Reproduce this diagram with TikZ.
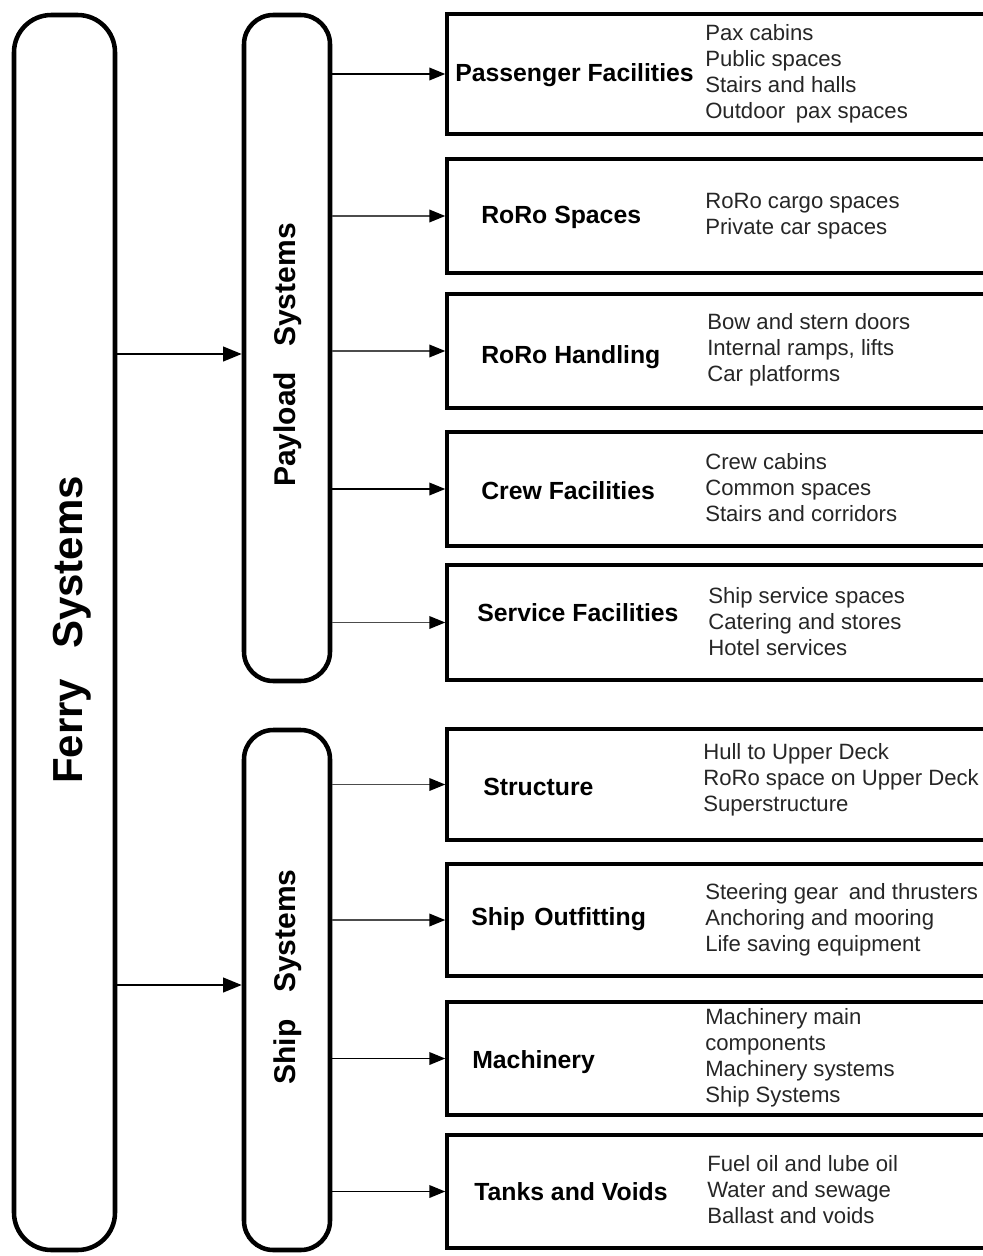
\documentclass[tikz,border=0pt]{standalone}
\usepackage{fontspec}
\setmainfont{Liberation Sans}
\usetikzlibrary{arrows.meta}
\begin{document}
\begin{tikzpicture}[x=0.75pt,y=-0.75pt,
  pill/.style={draw, line width=3.4pt, rounded corners=22pt, inner sep=0pt},
  item/.style={draw, line width=2.6pt, minimum width=407.25pt, inner sep=0pt},
  ttl/.style={font=\bfseries\fontsize{18.6}{22}\selectfont, anchor=west, inner sep=0pt},
  lst/.style={font=\fontsize{16.6}{19.5}\selectfont, anchor=west, align=left, inner sep=0pt, text=black!85},
  big/.style={font=\bfseries\fontsize{31.5}{36}\selectfont, rotate=90, inner sep=0pt},
  mid/.style={font=\bfseries\fontsize{22.5}{26}\selectfont, rotate=90, inner sep=0pt},
  feed/.style={line width=1.6pt, -{Triangle[length=14pt,width=11pt]}},
  link/.style={line width=1.2pt, draw=black!70, -{Triangle[length=12pt,width=9.5pt,black]}},
]
\fill[white] (0,0) rectangle (982,1256);
\useasboundingbox (0,0) rectangle (982,1256);

% top level and the two system groups
\node[pill, rounded corners=28pt, minimum width=75.75pt, minimum height=926.25pt] (ferry) at (64.5,632.5) {};
\node[big] (ferryT) at (72,630) {Ferry\hspace{22.5pt}Systems};

\node[pill, minimum width=64.5pt, minimum height=499.5pt] (pay) at (287,348) {};
\node[mid] (payT) at (288,355) {Payload\hspace{18.75pt}Systems};

\node[pill, minimum width=64.5pt, minimum height=390pt] (ship) at (287,990) {};
\node[mid] (shipT) at (288,977) {Ship\hspace{20pt}Systems};

\coordinate (fa) at (0,354);
\coordinate (fb) at (0,985);
\draw[feed] (ferry.east |- fa) -- (pay.west |- fa);
\draw[feed] (ferry.east |- fb) -- (ship.west |- fb);

% payload breakdown
\node[item, minimum height=90pt]    (b1) at (718.5,74)    {};
\node[item, minimum height=85.5pt]  (b2) at (718.5,216)   {};
\node[item, minimum height=85.5pt]  (b3) at (718.5,351)   {};
\node[item, minimum height=85.5pt]  (b4) at (718.5,489)   {};
\node[item, minimum height=86.25pt] (b5) at (718.5,622.5) {};
% ship breakdown
\node[item, minimum height=83.25pt] (b6) at (718.5,784.5) {};
\node[item, minimum height=84pt]    (b7) at (718.5,920)   {};
\node[item, minimum height=84.75pt] (b8) at (718.5,1058.5){};
\node[item, minimum height=84.75pt] (b9) at (718.5,1191.5){};

\draw[link, draw=black] (b1.west -| pay.east) -- (b1.west);
\draw[link] (b2.west -| pay.east) -- (b2.west);
\draw[link] (b3.west -| pay.east) -- (b3.west);
\draw[link, draw=black] (b4.west -| pay.east) -- (b4.west);
\draw[link] (b5.west -| pay.east) -- (b5.west);
\draw[link] (b6.west -| ship.east) -- (b6.west);
\draw[link] (b7.west -| ship.east) -- (b7.west);
\draw[link, draw=black] (b8.west -| ship.east) -- (b8.west);
\draw[link, draw=black] (b9.west -| ship.east) -- (b9.west);

% headings
\node[ttl] (t1) at (455,75)   {Passenger Facilities};
\node[ttl] (t2) at (481,217)  {RoRo Spaces};
\node[ttl] (t3) at (481,357)  {RoRo Handling};
\node[ttl] (t4) at (481,491)  {Crew Facilities};
\node[ttl] (t5) at (477,613)  {Service Facilities};
\node[ttl] (t6) at (483,787)  {Structure};
\node[ttl] (t7) at (471,919)  {Ship\hspace{7pt}Outfitting};
\node[ttl] (t8) at (472,1062) {Machinery};
\node[ttl] (t9) at (474,1192) {Tanks and Voids};

% contents
\node[lst] (l1) at (705,74)   {Pax cabins\\Public spaces\\Stairs and halls\\Outdoor\hspace{8pt}pax spaces};
\node[lst] (l2) at (705,216)  {RoRo cargo spaces\\Private car spaces};
\node[lst] (l3) at (707,350)  {Bow and stern doors\\Internal ramps, lifts\\Car platforms};
\node[lst] (l4) at (705,488)  {Crew cabins\\Common spaces\\Stairs and corridors};
\node[lst] (l5) at (708,622)  {Ship service spaces\\Catering and stores\\Hotel services};
\node[lst] (l6) at (703,780)  {Hull to Upper Deck\\RoRo space on Upper Deck\\Superstructure};
\node[lst] (l7) at (705,920)  {Steering gear\hspace{8pt}and thrusters\\Anchoring and mooring\\Life saving equipment};
\node[lst] (l8) at (705,1058) {Machinery main\\components\\Machinery systems\\Ship Systems};
\node[lst] (l9) at (707,1190) {Fuel oil and lube oil\\Water and sewage\\Ballast and voids};
\end{tikzpicture}
\end{document}
